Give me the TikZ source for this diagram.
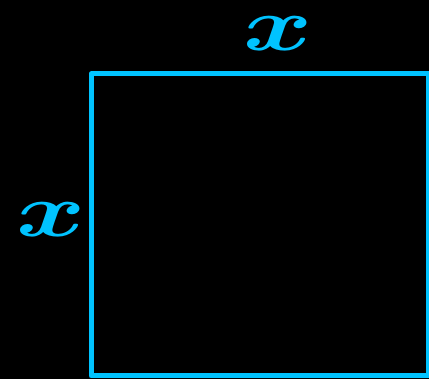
\documentclass[tikz,border=0pt]{standalone}
\usepackage{amsmath,amssymb}
\usepackage{graphicx}
\usepackage{xcolor}
\usetikzlibrary{positioning, backgrounds}

\definecolor{sidecyan}{RGB}{0,195,255}

\begin{document}
\begin{tikzpicture}[
    x=1pt, y=-1pt,
    side/.style={draw=sidecyan, line width=5pt, minimum width=337pt, minimum height=302pt,
                 inner sep=0pt, line join=round},
    lbl/.style={text=sidecyan, inner sep=0pt},
]
% === Frame ===
\fill[black] (0,0) rectangle (429,379);
\useasboundingbox (0,0) rectangle (429,379);

% === Square ===
\node[side] (sq) at (259.5,225) {};

% === Side labels ===
\node[lbl] (xtop) at (278,34) {\scalebox{10.5}[7.6]{$\boldsymbol{x}$}};
\node[lbl] (xleft) at (51,220) {\scalebox{10.5}[7.6]{$\boldsymbol{x}$}};

\end{tikzpicture}
\end{document}
